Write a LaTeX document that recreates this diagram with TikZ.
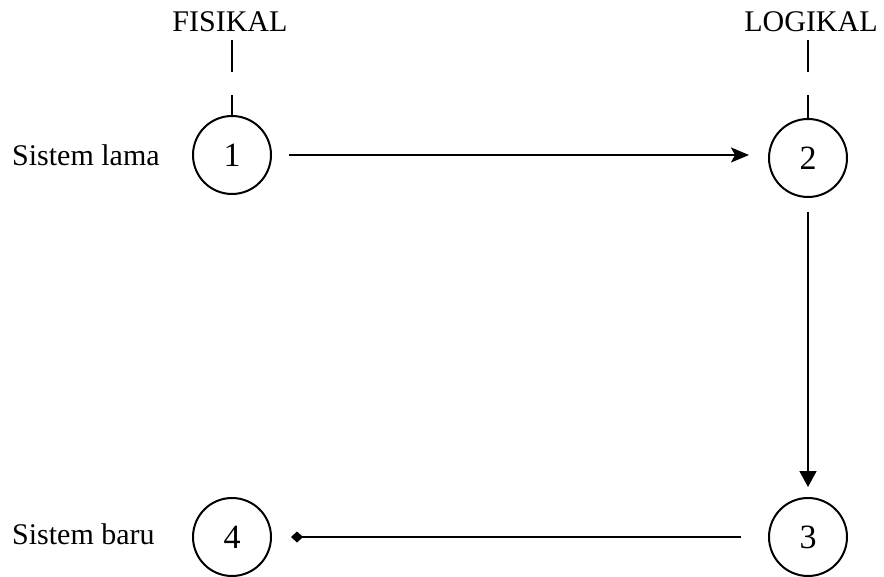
\documentclass[tikz,border=0pt]{standalone}
\usepackage{fontspec}
\setmainfont{Liberation Serif}
\usetikzlibrary{arrows.meta}
\begin{document}
\begin{tikzpicture}[x=1pt,y=-1pt,
  proc/.style={draw, circle, line width=2pt, minimum size=78pt, inner sep=0pt, font=\fontsize{34}{40}\selectfont},
  lbl/.style={inner sep=0pt, font=\fontsize{30}{36}\selectfont},
  conn/.style={line width=1.7pt},
  guide/.style={line width=1.7pt, dash pattern=on 32pt off 23pt on 60pt}
]
\useasboundingbox (0,0) rectangle (884,577);
\node[proc] (c1) at (232,155) {1};
\node[proc] (c2) at (808,158) {2};
\node[proc] (c3) at (808,537) {3};
\node[proc] (c4) at (232,537) {4};
\node[lbl] (fis) at (230,22) {FISIKAL};
\node[lbl] (log) at (811,22) {LOGIKAL};
\node[lbl, anchor=west] (lama) at (12,155) {Sistem lama};
\node[lbl, anchor=west] (baru) at (12,534) {Sistem baru};
\draw[guide, shorten <=8pt] (c1.north |- fis.south) -- (c1.north);
\draw[guide, shorten <=8pt] (c2.north |- log.south) -- (c2.north);
\draw[conn, shorten <=17pt, shorten >=19pt, -{Stealth[length=18pt,width=15pt,inset=4pt]}] (c1.east) -- (c1.east -| c2.west);
\draw[conn, shorten <=14pt, shorten >=10pt, -{Triangle[length=16pt,width=17pt]}] (c2.south) -- (c3.north);
\draw[conn, shorten <=27pt, shorten >=19pt, -{Diamond[length=12pt,width=11pt]}] (c3.west) -- (c4.east);
\end{tikzpicture}
\end{document}
